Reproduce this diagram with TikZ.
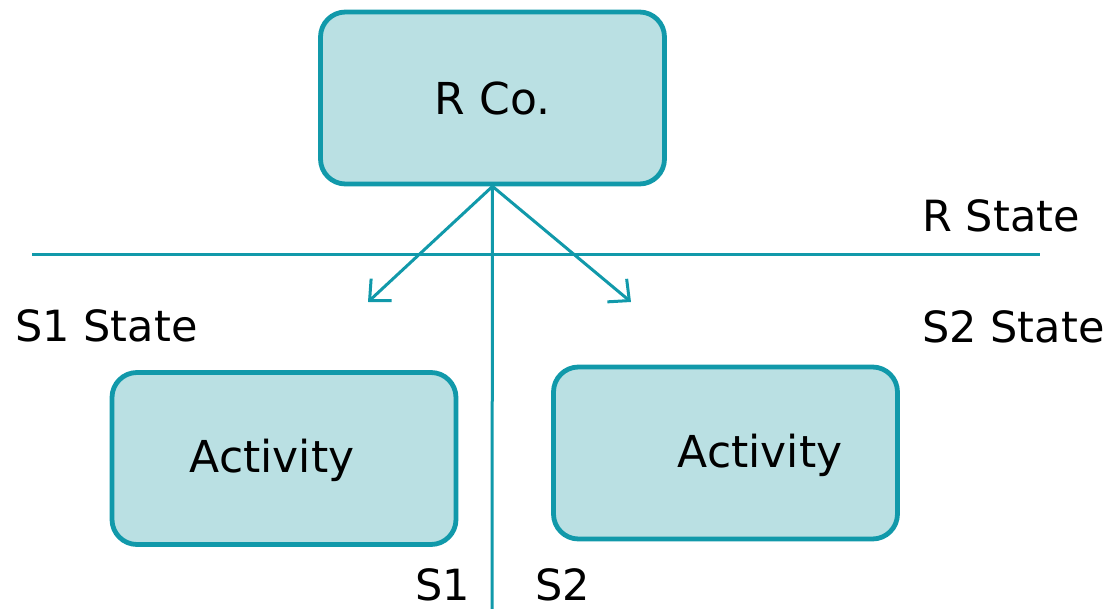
\documentclass[tikz,border=0pt]{standalone}
\usepackage{fontspec}
\setmainfont{DejaVu Sans}
\usetikzlibrary{arrows.meta}
\definecolor{teal1}{RGB}{17,153,170}
\definecolor{tealfill}{RGB}{186,224,227}
\tikzset{
  orgbox/.style={draw=teal1,fill=tealfill,line width=2.4pt,rounded corners=12.5pt,
    minimum width=172pt,minimum height=86pt,inner sep=0pt,font=\fontsize{22}{26}\selectfont},
  lbl/.style={anchor=west,inner sep=0pt,font=\fontsize{21.5}{26}\selectfont},
  rule/.style={teal1,line width=1.5pt}
}
\begin{document}
\begin{tikzpicture}[x=0.5pt,y=-0.5pt]
\useasboundingbox (0,0) rectangle (1104,609);
\node[orgbox] (rco) at (492.5,98) {R Co.};
\node[orgbox] (act1) at (284,458.5) {};
\node[inner sep=0pt,font=\fontsize{22}{26}\selectfont] (act1txt) at (272,460) {Activity};
\node[orgbox] (act2) at (725.5,453) {};
\node[inner sep=0pt,font=\fontsize{22}{26}\selectfont] (act2txt) at (760,455) {Activity};
\coordinate (linel) at (32,255);
\coordinate (liner) at (1040,255);
\coordinate (bottom) at (492,609);
\coordinate (tip1) at (368,302);
\coordinate (tip2) at (631,302);
\draw[rule] (linel) -- (liner);
\draw[rule] (rco.south) -- (bottom);
\draw[rule,-{Straight Barb[length=8pt,width=15pt]}] (rco.south) -- (tip1);
\draw[rule,-{Straight Barb[length=8pt,width=15pt]}] (rco.south) -- (tip2);
\node[lbl] (rstate) at (922,216) {R State};
\node[lbl] (s1state) at (15,326) {S1 State};
\node[lbl] (s2state) at (922,327) {S2 State};
\node[lbl] (s1) at (415,585) {S1};
\node[lbl] (s2) at (535,585) {S2};
\end{tikzpicture}
\end{document}
